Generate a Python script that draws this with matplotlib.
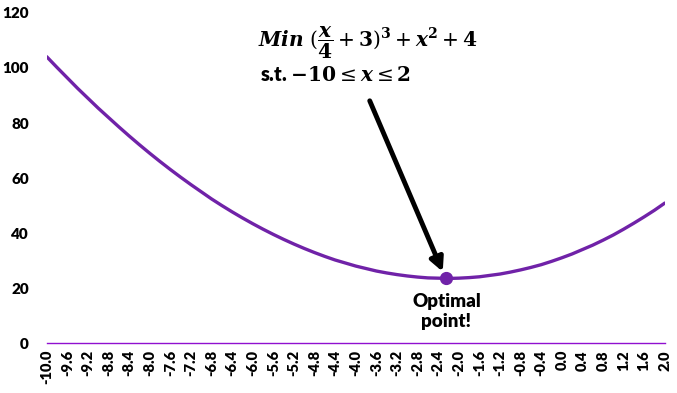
import numpy as np
import matplotlib.pyplot as plt

plt.rcParams['font.family'] = ['Lato', 'DejaVu Sans']
plt.rcParams['mathtext.fontset'] = 'dejavuserif'

# values, step 0.2
x_vals = np.round(np.arange(-10.0, 2.01, 0.2), 1)
y_vals = [104.1, 100.2, 96.4, 92.6, 89.0, 85.4, 82.0, 78.6, 75.3, 72.1,
          69.0, 66.0, 63.1, 60.3, 57.6, 55.0, 52.4, 50.0, 47.7, 45.5,
          43.4, 41.4, 39.5, 37.7, 36.0, 34.4, 32.9, 31.5, 30.2, 29.1,
          28.0, 27.1, 26.2, 25.5, 24.9, 24.4, 24.0, 23.7, 23.6, 23.5,
          23.6, 23.8, 24.1, 24.6, 25.1, 25.8, 26.6, 27.5, 28.5, 29.7,
          31.0, 32.4, 34.0, 35.6, 37.4, 39.3, 41.4, 43.6, 45.9, 48.3,
          50.9]
opt_x = -2.24
opt_y = 23.5
x_ticks = np.round(np.arange(-10.0, 2.01, 0.4), 1)
y_ticks = [0, 20, 40, 60, 80, 100, 120]

fig = plt.figure(figsize=(6.77, 3.93), dpi=100)
ax = fig.add_axes([0.069, 0.127, 0.913, 0.84])

ax.plot(x_vals, y_vals, color='#7022A8', lw=2.4, solid_capstyle='round')
ax.plot([opt_x], [opt_y], 'o', color='#7022A8', ms=8.5)

ax.set_xlim(-10.0, 2.0)
ax.set_ylim(0, 120)
ax.set_xticks(x_ticks)
ax.set_xticklabels([f'{v:.1f}' for v in x_ticks], rotation=90,
                   fontsize=10.5, fontweight='heavy')
ax.set_yticks(y_ticks)
ax.set_yticklabels([str(v) for v in y_ticks], fontsize=11, fontweight='heavy')
ax.tick_params(length=0)
ax.tick_params(axis='y', pad=13)
ax.tick_params(axis='x', pad=5)

for s in ['top', 'right', 'left']:
    ax.spines[s].set_visible(False)
ax.spines['bottom'].set_color('#9010D0')
ax.spines['bottom'].set_linewidth(1.0)

ax.annotate('', xy=(opt_x - 0.05, opt_y + 1.5), xytext=(-3.75, 89),
            arrowprops=dict(arrowstyle='-|>,head_length=0.8,head_width=0.4',
                            color='black', lw=3.5))

ax.text(-5.9, 109, r'$\mathbfit{Min}\ (\dfrac{\mathbfit{x}}{\mathbf{4}}+\mathbf{3})^{\mathbf{3}}+\mathbfit{x}^{\mathbf{2}}+\mathbf{4}$',
        fontsize=14.5, ha='left', va='center')
ax.text(-5.85, 97.5, r's.t. $\mathbf{-10} \leq \mathbfit{x} \leq \mathbf{2}$',
        fontsize=14.5, fontweight='heavy', ha='left', va='center')
ax.text(-2.24, 11.5, 'Optimal\npoint!', fontsize=13.5, fontweight='heavy',
        ha='center', va='center', linespacing=1.25)

fig.savefig('out.png', dpi=100)
